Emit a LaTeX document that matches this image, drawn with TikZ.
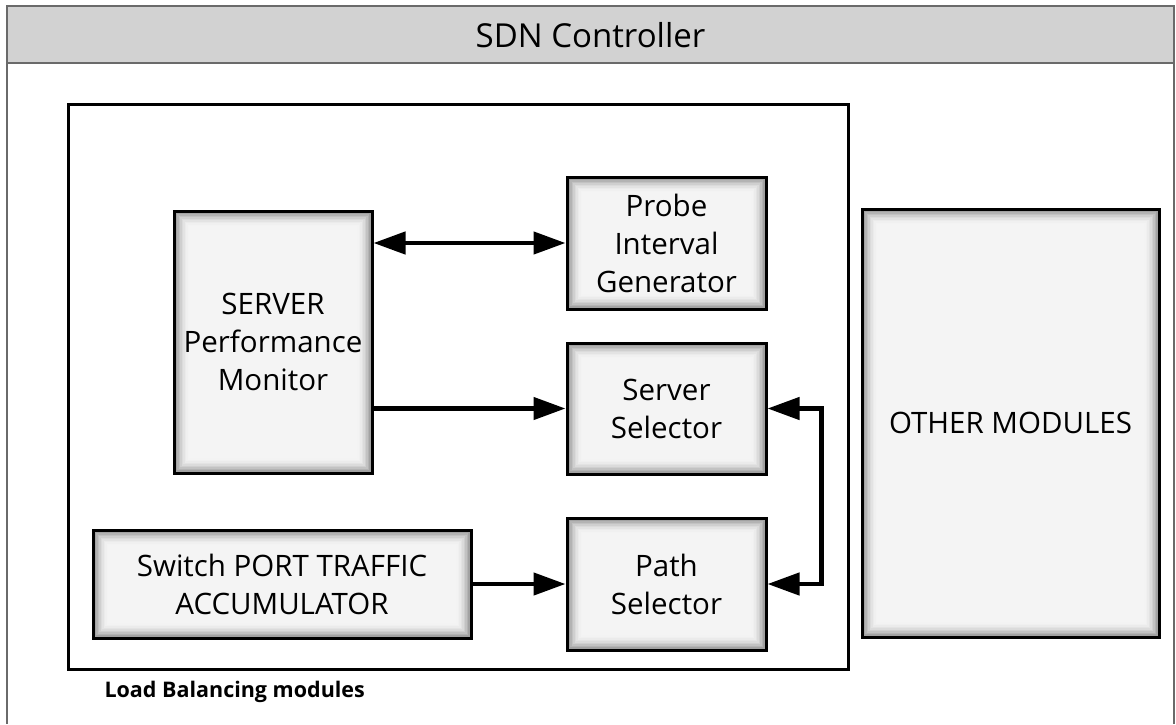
\documentclass[tikz,border=0pt]{standalone}
\usepackage{fontspec}
\setmainfont{Open Sans}
\usetikzlibrary{arrows.meta,calc}
\definecolor{hdrfill}{HTML}{D2D2D2}
\definecolor{frame}{HTML}{6A6A6A}
\definecolor{boxfill}{HTML}{F4F4F4}
\tikzset{
  modbox/.style={draw=black, line width=3pt, fill=boxfill, inner sep=0pt,
    align=center, font=\fontsize{29.5}{38}\selectfont,
    path picture={
      \foreach \k in {1,...,10}{
        \pgfmathsetmacro\op{0.5*(1-\k/11)^2}
        \draw[line width=1.5pt, draw=black, draw opacity=\op]
          ([shift={(\k*1.5pt-0.75pt,\k*1.5pt-0.75pt)}]path picture bounding box.south west)
          rectangle
          ([shift={(-\k*1.5pt+0.75pt,-\k*1.5pt+0.75pt)}]path picture bounding box.north east);
      }}},
  flow/.style={line width=4.5pt, -{Triangle[length=32pt,width=22pt]}},
  flowboth/.style={line width=4.5pt, {Triangle[length=32pt,width=22pt]}-{Triangle[length=32pt,width=22pt]}},
}
\begin{document}
\begin{tikzpicture}[x=1pt,y=-1pt]
\useasboundingbox (0,0) rectangle (1176,724);
\fill[white] (0,0) rectangle (1176,724);

% controller frame with its title bar
\draw[frame, line width=2pt] (7,63) -- (7,724);
\draw[frame, line width=2pt] (1174,63) -- (1174,724);
\draw[frame, line width=2pt, fill=hdrfill] (7,6) rectangle (1174,63);
\node[font=\fontsize{33}{38}\selectfont] (title) at (590.5,35) {SDN Controller};

% load balancing group
\node[draw=black, line width=3pt, minimum width=780pt, minimum height=565pt, inner sep=0pt] (lb) at (458,386.5) {};
\node[anchor=west, font=\bfseries\fontsize{21.5}{24}\selectfont] (lblabel) at (101,692) {Load Balancing modules};

% modules
\node[modbox, minimum width=198pt, minimum height=262pt] (spm) at (273,342) {SERVER\\Performance\\Monitor};
\node[modbox, minimum width=199pt, minimum height=132pt] (probe) at (666.5,243) {Probe\\Interval\\Generator};
\node[modbox, minimum width=199pt, minimum height=131pt] (server) at (666.5,408.5) {Server\\Selector};
\node[modbox, minimum width=199pt, minimum height=132pt] (path) at (666.5,584) {Path\\Selector};
\node[modbox, minimum width=378pt, minimum height=108pt] (switch) at (282,584) {Switch PORT TRAFFIC\\ACCUMULATOR};
\node[modbox, minimum width=297pt, minimum height=428pt] (other) at (1010.5,423) {OTHER MODULES};

% connections
\draw[flowboth] (spm.east |- probe.west) -- (probe.west);
\draw[flow] (spm.east |- server.west) -- (server.west);
\draw[flow] (switch.east) -- (path.west);
\draw[flowboth] (server.east) -- ++(54,0) |- (path.east);
\end{tikzpicture}
\end{document}
